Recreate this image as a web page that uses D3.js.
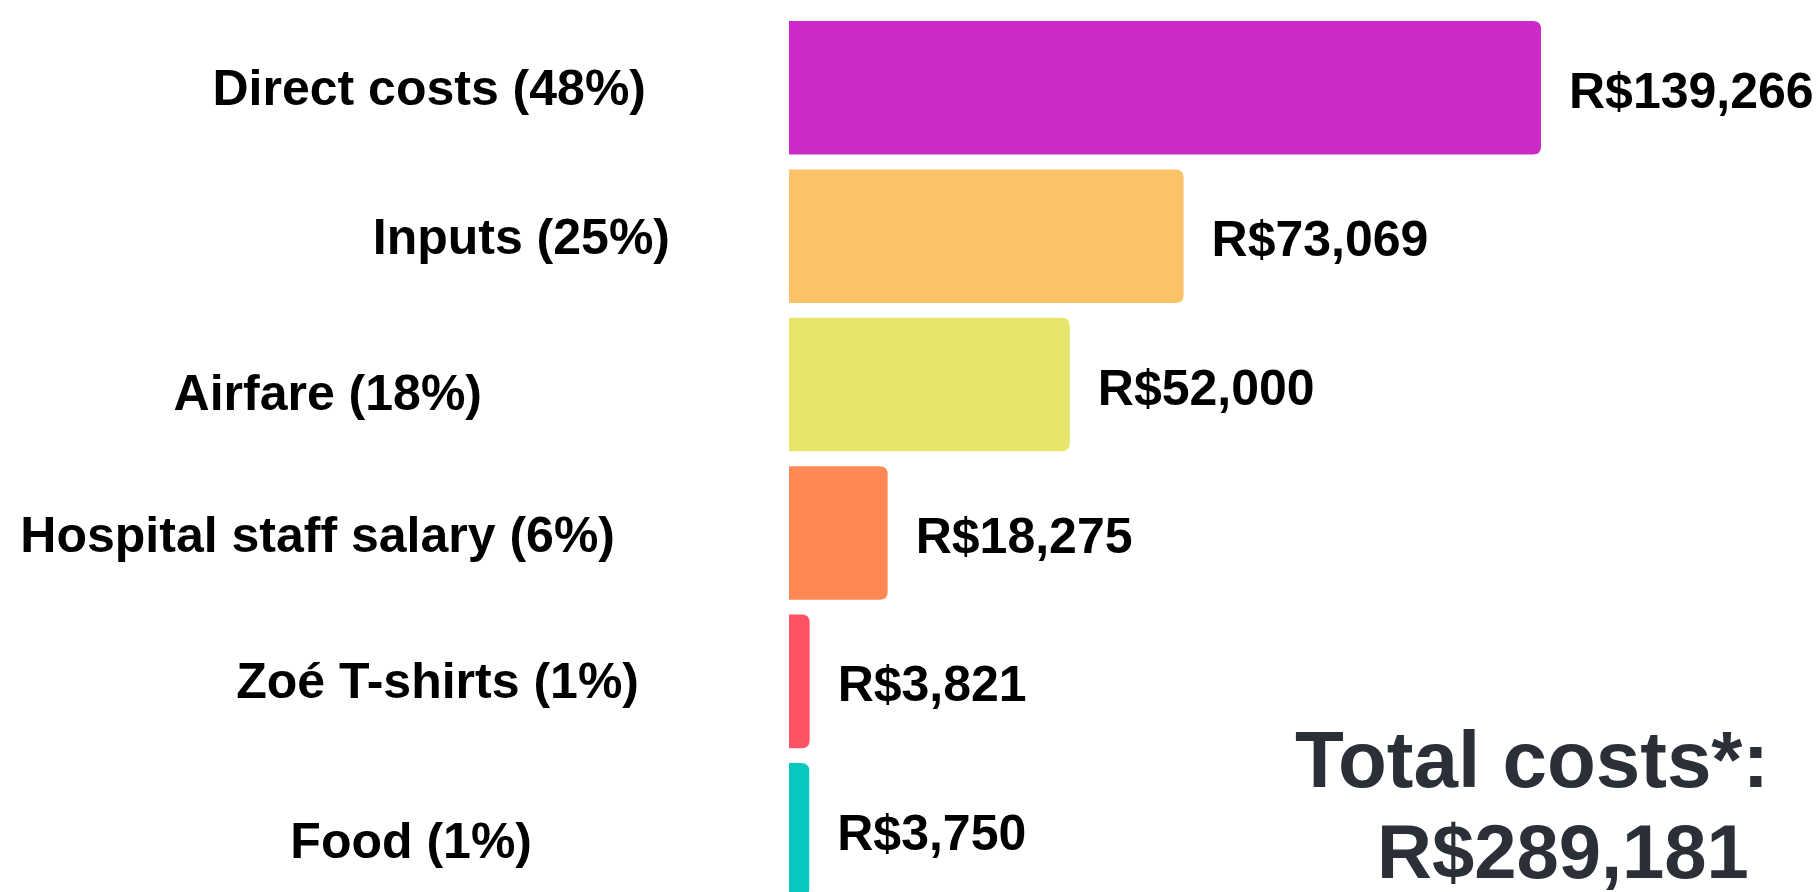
<!DOCTYPE html>
<html>
<head>
<meta charset="utf-8">
<script src="https://cdn.jsdelivr.net/npm/d3@7"></script>
<style>
  html, body { margin: 0; padding: 0; background: #ffffff; }
  svg { display: block; }
  text { font-family: "Liberation Sans", Arial, sans-serif; font-weight: bold; }
</style>
</head>
<body>
<svg id="chart" width="1816" height="892"></svg>
<script>
// ---- data ----
const categories = ["Direct costs", "Inputs", "Airfare", "Hospital staff salary", "Zoé T-shirts", "Food"];
const values = [139266, 73069, 52000, 18275, 3821, 3750];
const shares = [48, 25, 18, 6, 1, 1];
const barColors = ["#cb2ac6", "#fdc168", "#e6e66b", "#ff8855", "#ff5262", "#06c8be"];
const totalLabel = "Total costs*:";
const totalValue = 289181;

// ---- layout (annotation placement, not data) ----
const labelEndX = [646, 670, 482, 615, 639, 532];
const labelDy = [17, 18, 25, 19, 17, 28];

const svg = d3.select("#chart");
const fmt = v => "R$" + d3.format(",")(v);

const x = d3.scaleLinear().domain([0, values[0]]).range([789, 1541]);
const y = d3.scaleBand().domain(categories).range([13.58, 903.98]).paddingInner(0.1).paddingOuter(0.05);

const r = 8;
function barPath(x0, x1, y0, h) {
  const rr = Math.min(r, (x1 - x0) / 2, h / 2);
  return `M${x0},${y0} H${x1 - rr} Q${x1},${y0} ${x1},${y0 + rr} V${y0 + h - rr} Q${x1},${y0 + h} ${x1 - rr},${y0 + h} H${x0} Z`;
}

const data = categories.map((c, i) => ({ c, v: values[i], s: shares[i], color: barColors[i], i }));

svg.selectAll("path.bar").data(data).join("path")
  .attr("class", "bar")
  .attr("d", d => barPath(x(0), x(d.v), y(d.c), y.bandwidth()))
  .attr("fill", d => d.color);

svg.selectAll("text.val").data(data).join("text")
  .attr("class", "val")
  .attr("x", d => x(d.v) + 28)
  .attr("y", d => y(d.c) + y.bandwidth() / 2 + 20)
  .attr("font-size", 50)
  .attr("fill", "#000")
  .text(d => fmt(d.v));

svg.selectAll("text.cat").data(data).join("text")
  .attr("class", "cat")
  .attr("x", d => labelEndX[d.i])
  .attr("y", d => y(d.c) + y.bandwidth() / 2 + labelDy[d.i])
  .attr("text-anchor", "end")
  .attr("font-size", 50)
  .attr("fill", "#000")
  .text(d => `${d.c} (${d.s}%)`);

svg.append("text")
  .attr("x", 1295).attr("y", 787)
  .attr("font-size", 80).attr("fill", "#2a2f38")
  .text(totalLabel);
svg.append("text")
  .attr("x", 1377).attr("y", 878)
  .attr("font-size", 76).attr("fill", "#2a2f38")
  .text(fmt(totalValue));
</script>
</body>
</html>
